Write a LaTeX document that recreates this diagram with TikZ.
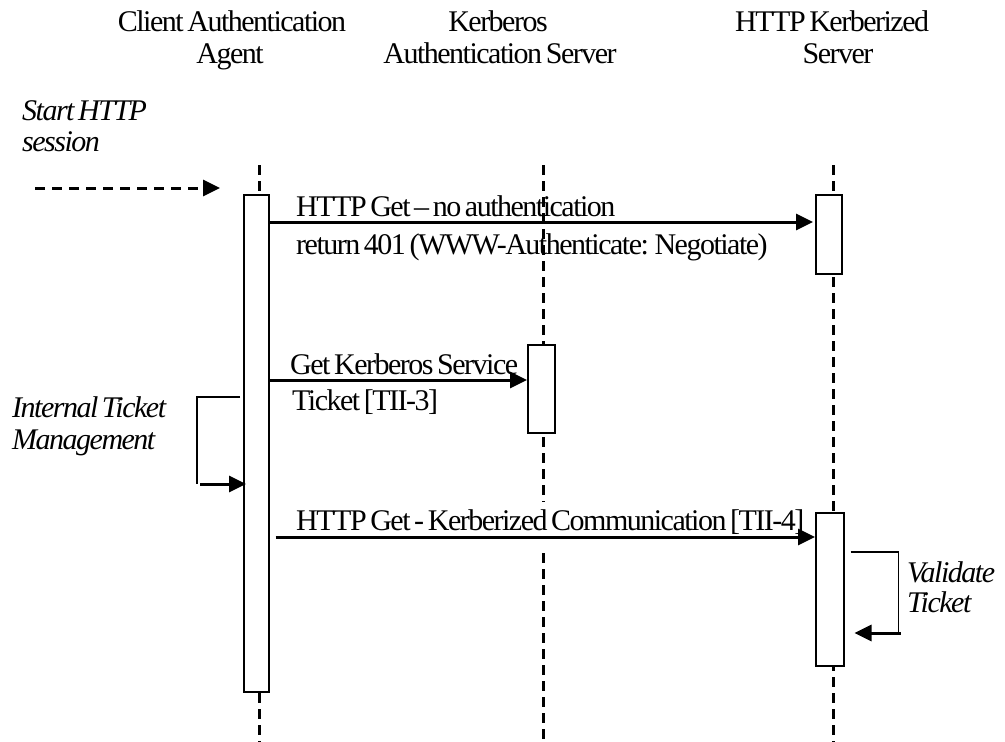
\documentclass[tikz,border=0pt]{standalone}
\usepackage{fontspec}
\setmainfont{Liberation Serif}
\newfontfamily\tightfont[LetterSpace=-5, WordSpace=0.6]{Liberation Serif}
\usetikzlibrary{arrows.meta}
\begin{document}
\begin{tikzpicture}[x=1pt,y=-1pt,
  txt/.style={font=\tightfont\fontsize{30}{34}\selectfont, inner sep=0pt, anchor=base west},
  itxt/.style={txt, font=\tightfont\fontsize{30}{34}\selectfont\itshape},
  hdr/.style={font=\tightfont\fontsize{30}{34}\selectfont, inner sep=0pt, anchor=base},
  life/.style={line width=3pt, dash pattern=on 10pt off 6pt},
  actbox/.style={draw, line width=1.5pt, fill=white, inner sep=0pt, anchor=north west},
  msg/.style={line width=3pt, -{Triangle[length=17pt,width=16pt]}},
  loopline/.style={line width=1.5pt},
]
\useasboundingbox (0,0) rectangle (1005,742);
% headers
\node[hdr] (hA1) at (232,31) {Client Authentication};
\node[hdr] (hA2) at (230,63) {Agent};
\node[hdr] (hB1) at (498,31) {Kerberos};
\node[hdr] (hB2) at (500,63) {Authentication Server};
\node[txt] (hC1) at (735,31) {HTTP Kerberized};
\node[hdr] (hC2) at (838,63) {Server};
% lifelines
\coordinate (lAtop) at (259,165);  \coordinate (lAbot) at (259,742);
\coordinate (lBtop) at (543,165);  \coordinate (lBmid) at (543,502);
\coordinate (lBmid2) at (543,553); \coordinate (lBbot) at (543,742);
\coordinate (lCtop) at (833,165);  \coordinate (lCbot) at (833,742);
\draw[life] (lAtop) -- (lAbot);
\draw[life] (lBtop) -- (lBmid);
\draw[life] (lBmid2) -- (lBbot);
\draw[life] (lCtop) -- (lCbot);
% activation boxes
\node[actbox, minimum width=25pt, minimum height=497pt] (actA) at (243,194) {};
\node[actbox, minimum width=27pt, minimum height=88pt] (actB) at (527,344) {};
\node[actbox, minimum width=26pt, minimum height=79pt] (actC1) at (815,194) {};
\node[actbox, minimum width=28pt, minimum height=153pt] (actC2) at (815,512) {};
% start session
\node[itxt] (start1) at (22,120) {Start HTTP};
\node[itxt] (start2) at (22,151) {session};
\coordinate (s0) at (35,188);
\coordinate (s1) at (220,188);
\draw[line width=3pt, dash pattern=on 10pt off 7pt, -{Triangle[length=17pt,width=16pt]}] (s0) -- (s1);
% message 1
\coordinate (y1) at (0,222);
\draw[msg] (actA.east |- y1) -- ([xshift=-2pt]actC1.west |- y1);
\node[txt] (m1a) at (296,216) {HTTP Get – no authentication};
\node[txt] (m1b) at (296,254) {return 401 (WWW-Authenticate: Negotiate)};
% message 2
\coordinate (y2) at (0,380);
\draw[msg] (actA.east |- y2) -- (actB.west |- y2);
\node[txt] (m2a) at (290,374) {Get Kerberos Service};
\node[txt] (m2b) at (292,410) {Ticket [TII-3]};
% internal ticket management loop
\coordinate (yl1) at (0,397);
\coordinate (yl2) at (0,484);
\draw[loopline] ([xshift=-3pt]actA.west |- yl1) -- ++(-43,0) coordinate (la) -- (la |- yl2) coordinate (lb);
\draw[msg] ([xshift=3pt]lb) -- ([xshift=3pt]actA.west |- yl2);
\node[itxt] (itm1) at (12,417) {Internal Ticket};
\node[itxt] (itm2) at (12,449) {Management};
% message 3
\coordinate (y3) at (0,537);
\draw[msg] ([xshift=6pt]actA.east |- y3) -- (actC2.west |- y3);
\node[txt] (m3) at (296,530) {HTTP Get - Kerberized Communication [TII-4]};
% validate loop
\coordinate (yv1) at (0,552);
\coordinate (yv2) at (0,633);
\draw[loopline] ([xshift=6pt]actC2.east |- yv1) -- ++(48,0) coordinate (va) -- (va |- yv2) coordinate (vb);
\draw[msg] ([xshift=2pt]vb) -- ([xshift=10pt]actC2.east |- yv2);
\node[itxt] (val1) at (907,582) {Validate};
\node[itxt] (val2) at (907,612) {Ticket};
\end{tikzpicture}
\end{document}
